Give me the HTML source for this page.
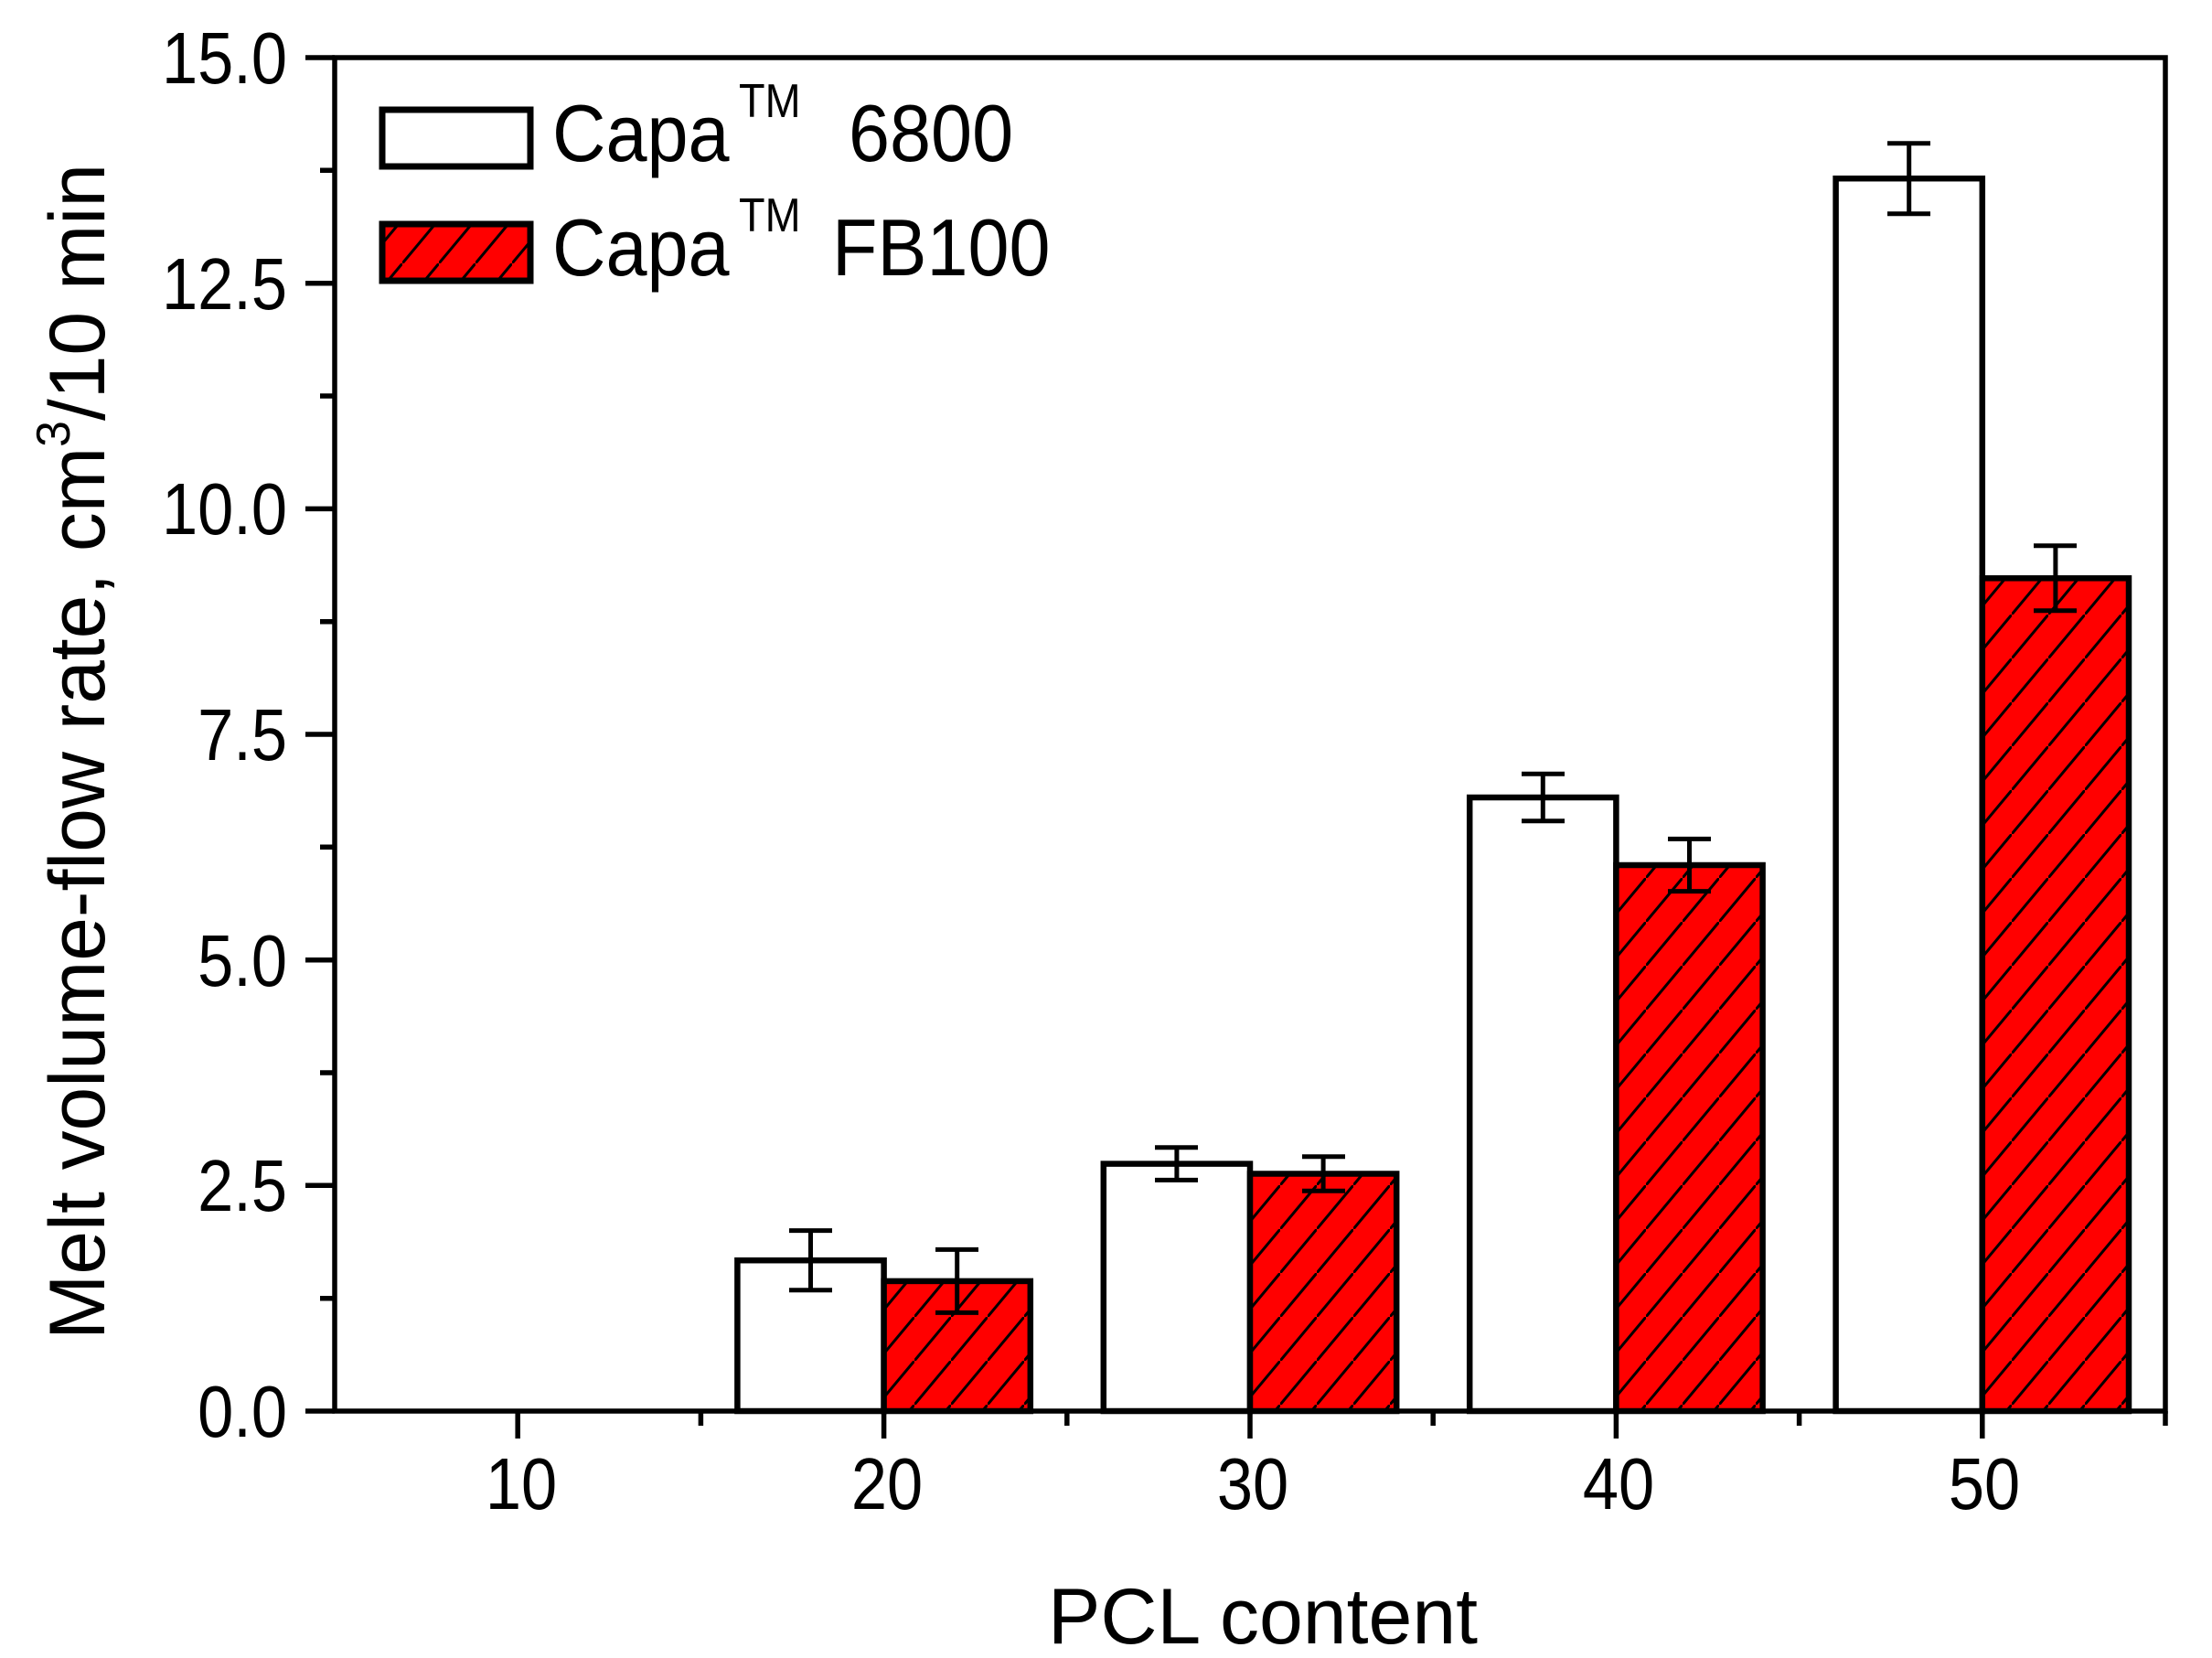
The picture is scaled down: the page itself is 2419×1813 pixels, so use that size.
<!DOCTYPE html>
<html><head><meta charset="utf-8"><style>html,body{margin:0;padding:0;background:#fff}svg{display:block}</style></head>
<body>
<svg width="2419" height="1813" viewBox="0 0 2419 1813" xmlns="http://www.w3.org/2000/svg" font-family="'Liberation Sans', Arial, sans-serif">
<defs>
<pattern id="h" patternUnits="userSpaceOnUse" width="40" height="48">
<rect width="40" height="48" fill="#ff0000"/>
<line x1="-5" y1="54" x2="45" y2="-6" stroke="#000" stroke-width="3"/>
</pattern>
</defs>
<rect width="2419" height="1813" fill="#fff"/>
<g stroke="#000" stroke-width="6.5">
<rect x="806.4" y="1378.2" width="160.2" height="164.8" fill="#fff"/>
<rect x="966.6" y="1400.9" width="160.2" height="142.1" fill="url(#h)"/>
<rect x="1206.8" y="1272.6" width="160.2" height="270.4" fill="#fff"/>
<rect x="1367" y="1283.5" width="160.2" height="259.5" fill="url(#h)"/>
<rect x="1607.2" y="872" width="160.2" height="671" fill="#fff"/>
<rect x="1767.4" y="946" width="160.2" height="597" fill="url(#h)"/>
<rect x="2007.6" y="195.2" width="160.2" height="1347.8" fill="#fff"/>
<rect x="2167.8" y="632.3" width="160.2" height="910.7" fill="url(#h)"/>
</g>
<g stroke="#000" stroke-width="5" fill="none">
<path d="M886.5 1345.6V1410.8M863 1345.6H910M863 1410.8H910"/>
<path d="M1046.7 1366.4V1435.4M1023 1366.4H1070M1023 1435.4H1070"/>
<path d="M1286.9 1254.8V1290.4M1263 1254.8H1310M1263 1290.4H1310"/>
<path d="M1447.1 1264.8V1302.2M1424 1264.8H1471M1424 1302.2H1471"/>
<path d="M1687.3 846.3V897.7M1664 846.3H1711M1664 897.7H1711"/>
<path d="M1847.5 917.4V974.6M1824 917.4H1871M1824 974.6H1871"/>
<path d="M2087.7 156.7V233.7M2064 156.7H2111M2064 233.7H2111"/>
<path d="M2247.9 596.8V667.8M2224 596.8H2271M2224 667.8H2271"/>
</g>
<g stroke="#000" stroke-width="5.5" fill="none">
<rect x="366" y="63" width="2002" height="1480"/>
<path d="M334 63H366M334 309.7H366M334 556.4H366M334 803H366M334 1049.7H366M334 1296.3H366M334 1543H366"/>
<path d="M350 186.3H366M350 433H366M350 679.7H366M350 926.3H366M350 1173H366M350 1419.7H366"/>
<path d="M566.2 1543V1573M966.6 1543V1573M1367 1543V1573M1767.4 1543V1573M2167.8 1543V1573"/>
<path d="M766.4 1543V1559M1166.8 1543V1559M1567.2 1543V1559M1967.6 1543V1559M2368 1543V1559"/>
</g>
<g font-size="80" fill="#000" text-anchor="end" transform="translate(314,0) scale(0.88,1)">
<text x="0" y="91">15.0</text>
<text x="0" y="338">12.5</text>
<text x="0" y="584">10.0</text>
<text x="0" y="831">7.5</text>
<text x="0" y="1078">5.0</text>
<text x="0" y="1324">2.5</text>
<text x="0" y="1571">0.0</text>
</g>
<g font-size="80" fill="#000" text-anchor="middle">
<text transform="translate(570,1650) scale(0.88,1)">10</text>
<text transform="translate(970,1650) scale(0.88,1)">20</text>
<text transform="translate(1370,1650) scale(0.88,1)">30</text>
<text transform="translate(1770,1650) scale(0.88,1)">40</text>
<text transform="translate(2170,1650) scale(0.88,1)">50</text>
</g>
<text transform="translate(1381,1797)" font-size="86" text-anchor="middle">PCL content</text>
<text transform="translate(114,822) rotate(-90)" font-size="86" text-anchor="middle" textLength="1286" lengthAdjust="spacingAndGlyphs">Melt volume-flow rate, cm<tspan font-size="52" dy="-38">3</tspan><tspan dy="38">/10 min</tspan></text>
<rect x="418" y="120" width="162" height="62" fill="#fff" stroke="#000" stroke-width="7"/>
<rect x="418" y="245" width="162" height="62" fill="url(#h)" stroke="#000" stroke-width="7"/>
<g font-size="88" fill="#000">
<text transform="translate(604,176) scale(0.92,1)">Capa</text>
<text transform="translate(928,176) scale(0.92,1)">6800</text>
<text transform="translate(604,301) scale(0.92,1)">Capa</text>
<text transform="translate(910,301) scale(0.92,1)">FB100</text>
</g>
<g font-size="52" fill="#000">
<text transform="translate(808,128) scale(0.9,1)">TM</text>
<text transform="translate(808,253) scale(0.9,1)">TM</text>
</g>
</svg>
</body></html>
